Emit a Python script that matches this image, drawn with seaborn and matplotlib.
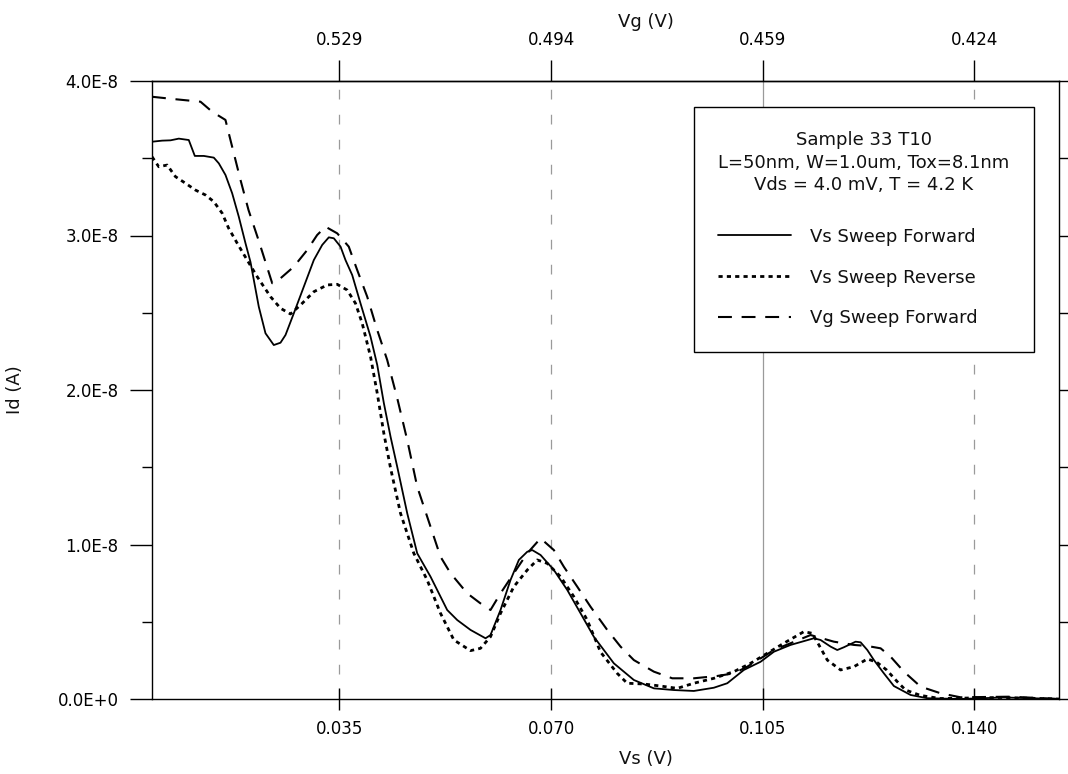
import numpy as np
import pandas as pd
import matplotlib
matplotlib.use("Agg")
import matplotlib.pyplot as plt
import seaborn as sns
from matplotlib.ticker import FixedLocator, MultipleLocator, NullLocator

# ---- measured drain current vs source voltage (Id in units of 1e-8 A) ----
vs_fwd = [0.0040, 0.00568, 0.00706, 0.00843, 0.01008, 0.01108, 0.01257, 0.01422, 0.01505,
          0.01615, 0.01726, 0.01835, 0.01946, 0.02029, 0.02166, 0.02277, 0.02414, 0.02525,
          0.02608, 0.02745, 0.02911, 0.03076, 0.03215, 0.03324, 0.03407, 0.03518, 0.03600,
          0.03711, 0.03848, 0.04014, 0.04125, 0.04234, 0.04345, 0.04455, 0.04621, 0.04786,
          0.05006, 0.05282, 0.05448, 0.05668, 0.05916, 0.05998, 0.06164, 0.06329, 0.06467,
          0.06606, 0.06688, 0.06826, 0.07046, 0.07267, 0.07487, 0.07707, 0.08038, 0.08369,
          0.08700, 0.09030, 0.09361, 0.09692, 0.09914, 0.10188, 0.10465, 0.10685, 0.10961,
          0.11346, 0.11457, 0.11623, 0.11733, 0.11843, 0.12036, 0.12119, 0.12230, 0.12339,
          0.12504, 0.12669, 0.12946, 0.13222, 0.13768, 0.14484, 0.1540]
id_fwd = [3.607, 3.614, 3.616, 3.627, 3.618, 3.515, 3.515, 3.504, 3.467,
          3.392, 3.273, 3.122, 2.950, 2.828, 2.539, 2.367, 2.291, 2.306,
          2.356, 2.496, 2.669, 2.841, 2.939, 2.988, 2.982, 2.928, 2.841,
          2.744, 2.561, 2.345, 2.162, 1.916, 1.698, 1.504, 1.202, 0.943,
          0.792, 0.576, 0.511, 0.447, 0.393, 0.414, 0.576, 0.770, 0.900,
          0.953, 0.964, 0.932, 0.835, 0.706, 0.555, 0.403, 0.231, 0.123,
          0.069, 0.058, 0.052, 0.073, 0.102, 0.188, 0.241, 0.306, 0.350,
          0.393, 0.382, 0.339, 0.317, 0.335, 0.371, 0.367, 0.317, 0.252,
          0.166, 0.084, 0.026, 0.005, 0.000, 0.010, 0.000]

vs_rev = [0.0040, 0.00512, 0.00651, 0.00788, 0.00954, 0.01119, 0.01285, 0.01422, 0.01561,
          0.01665, 0.01809, 0.01974, 0.02140, 0.02360, 0.02525, 0.02690, 0.02856, 0.03076,
          0.03298, 0.03463, 0.03628, 0.03765, 0.03876, 0.04014, 0.04125, 0.04234, 0.04345,
          0.04510, 0.04730, 0.04951, 0.05171, 0.05392, 0.05668, 0.05832, 0.05998, 0.06164,
          0.06384, 0.06606, 0.06771, 0.06936, 0.07156, 0.07377, 0.07598, 0.07818, 0.08094,
          0.08259, 0.08534, 0.08810, 0.09087, 0.09361, 0.09692, 0.10023, 0.10299, 0.10575,
          0.10850, 0.11181, 0.11320, 0.11429, 0.11568, 0.11788, 0.12008, 0.12230, 0.12383,
          0.12549, 0.12726, 0.12863, 0.13111, 0.13438, 0.14430, 0.1540]
id_rev = [3.510, 3.445, 3.456, 3.381, 3.338, 3.294, 3.262, 3.219, 3.144,
          3.049, 2.950, 2.841, 2.733, 2.604, 2.529, 2.492, 2.550, 2.636,
          2.680, 2.684, 2.647, 2.561, 2.432, 2.216, 1.979, 1.720, 1.495,
          1.202, 0.943, 0.770, 0.555, 0.382, 0.313, 0.328, 0.403, 0.555,
          0.727, 0.835, 0.900, 0.878, 0.792, 0.662, 0.511, 0.304, 0.166,
          0.102, 0.097, 0.084, 0.069, 0.102, 0.134, 0.177, 0.231, 0.296,
          0.361, 0.436, 0.425, 0.350, 0.252, 0.188, 0.209, 0.259, 0.239,
          0.188, 0.112, 0.058, 0.023, 0.003, 0.010, 0.000]

vs_vg = [0.0040, 0.00788, 0.01202, 0.01395, 0.01615, 0.01670, 0.01753, 0.01864, 0.01996,
         0.02161, 0.02277, 0.02388, 0.02525, 0.02745, 0.02967, 0.03131, 0.03269, 0.03463,
         0.03654, 0.03793, 0.03959, 0.04125, 0.04290, 0.04455, 0.04621, 0.04786, 0.04951,
         0.05171, 0.05337, 0.05613, 0.05832, 0.05998, 0.06164, 0.06384, 0.06606, 0.06826,
         0.07046, 0.07211, 0.07433, 0.07653, 0.07929, 0.08149, 0.08369, 0.08700, 0.09004,
         0.09361, 0.09748, 0.10023, 0.10244, 0.10465, 0.10685, 0.10961, 0.11291, 0.11677,
         0.12008, 0.12230, 0.12450, 0.12615, 0.12835, 0.13111, 0.13442, 0.13772, 0.14600,
         0.1540]
id_vg = [3.898, 3.882, 3.866, 3.801, 3.748, 3.661, 3.532, 3.359, 3.165,
         2.971, 2.828, 2.691, 2.723, 2.798, 2.906, 3.003, 3.057, 3.014,
         2.928, 2.777, 2.604, 2.388, 2.194, 1.948, 1.676, 1.374, 1.180,
         0.921, 0.814, 0.684, 0.619, 0.576, 0.684, 0.814, 0.943, 1.040,
         0.964, 0.856, 0.727, 0.597, 0.447, 0.339, 0.252, 0.177, 0.134,
         0.134, 0.149, 0.166, 0.209, 0.263, 0.317, 0.361, 0.414, 0.371,
         0.350, 0.343, 0.328, 0.274, 0.177, 0.080, 0.037, 0.011, 0.015,
         0.000]

series_names = ["Vs Sweep Forward", "Vs Sweep Reverse", "Vg Sweep Forward"]
legend_title = "Sample 33 T10\nL=50nm, W=1.0um, Tox=8.1nm\nVds = 4.0 mV, T = 4.2 K"

vs_ticks = [0.035, 0.070, 0.105, 0.140]
vs_ticklabels = ["0.035", "0.070", "0.105", "0.140"]
vg_ticks = [0.529, 0.494, 0.459, 0.424]
vg_ticklabels = ["0.529", "0.494", "0.459", "0.424"]
id_ticks = [0.0, 1e-8, 2e-8, 3e-8, 4e-8]
id_ticklabels = ["0.0E+0", "1.0E-8", "2.0E-8", "3.0E-8", "4.0E-8"]
VG_OFFSET = 0.564  # Vg = VG_OFFSET - Vs

# ---- long-form table for seaborn ----
frames = []
for name, xs, ys in zip(series_names, [vs_fwd, vs_rev, vs_vg], [id_fwd, id_rev, id_vg]):
    frames.append(pd.DataFrame({"Vs": xs, "Id": np.asarray(ys) * 1e-8, "sweep": name}))
df = pd.concat(frames, ignore_index=True)

sns.set_theme(style="white")
plt.rcParams.update({
    "font.family": ["DejaVu Sans"],
    "lines.scale_dashes": False,
    "axes.edgecolor": "black",
    "axes.linewidth": 1.0,
    "xtick.color": "black",
    "ytick.color": "black",
    "text.color": "#111111",
    "axes.labelcolor": "#111111",
})

fig = plt.figure(figsize=(10.68, 7.74), dpi=100)
ax = fig.add_axes([152 / 1068, 75 / 774, 907 / 1068, 618 / 774])

# vertical reference lines at the labelled Vs positions
grid_styles = [(0, (7, 11)), (0, (7, 11)), "-", (0, (7, 11))]
for xv, ls in zip(vs_ticks, grid_styles):
    ax.axvline(xv, color="#9a9a9a", lw=0.9, ls=ls, zorder=0)

sns.lineplot(
    data=df, x="Vs", y="Id", hue="sweep", style="sweep", size="sweep",
    hue_order=series_names, style_order=series_names, size_order=series_names,
    palette=["black", "black", "black"],
    dashes=["", (3, 3), (10, 7)],
    sizes={series_names[0]: 1.3, series_names[1]: 2.0, series_names[2]: 1.5},
    estimator=None, sort=False, legend=False, ax=ax, zorder=3,
)

ax.set_xlim(0.004, 0.154)
ax.set_ylim(0, 4e-8)

# bottom axis: Vs
ax.xaxis.set_major_locator(FixedLocator(vs_ticks))
ax.set_xticklabels(vs_ticklabels)
ax.xaxis.set_minor_locator(NullLocator())
ax.tick_params(axis="x", which="major", direction="inout", length=16, width=1,
               bottom=True, top=False, labelsize=12, pad=7)
ax.set_xlabel("Vs (V)", fontsize=13)
ax.xaxis.set_label_coords(0.545, -0.083)

# left/right axis: Id
ax.set_yticks(id_ticks, id_ticklabels)
ax.yaxis.set_minor_locator(MultipleLocator(0.5e-8))
ax.tick_params(axis="y", which="major", direction="out", length=16, width=1,
               left=True, right=True, labelsize=12, pad=8)
ax.tick_params(axis="y", which="minor", direction="out", length=7, width=1,
               left=True, right=True)
ax.set_ylabel("Id (A)", fontsize=13, labelpad=24)

for sp in ax.spines.values():
    sp.set_visible(True)
    sp.set_color("black")
    sp.set_linewidth(1.0)

# top axis: Vg
sec = ax.secondary_xaxis("top", functions=(lambda v: VG_OFFSET - v, lambda g: VG_OFFSET - g))
sec.set_xticks(vg_ticks, vg_ticklabels)
sec.xaxis.set_minor_locator(NullLocator())
sec.tick_params(axis="x", which="major", direction="out", length=15, width=1,
                labelsize=12, pad=8, colors="black")
sec.set_xlabel("Vg (V)", fontsize=13)
sec.xaxis.set_label_coords(0.545, 1.087, transform=ax.transAxes)

# legend box with sample description
handles = ax.get_lines()[-3:]
leg = ax.legend(
    handles=handles, labels=series_names, title=legend_title,
    loc="upper right", bbox_to_anchor=(0.9724, 0.958), borderaxespad=0,
    fontsize=13, title_fontsize=13, frameon=True, fancybox=False,
    edgecolor="black", framealpha=1, borderpad=1.35, labelspacing=1.27,
    handlelength=4.0, handletextpad=1.1, alignment="left",
)
leg.get_frame().set_linewidth(1.0)
leg.get_title().set_multialignment("center")
leg.get_title().set_linespacing(1.32)
leg._legend_box.sep = 24  # gap between the description and the entries (pt)
leg.set_zorder(5)

fig.savefig("out.png", dpi=100)
